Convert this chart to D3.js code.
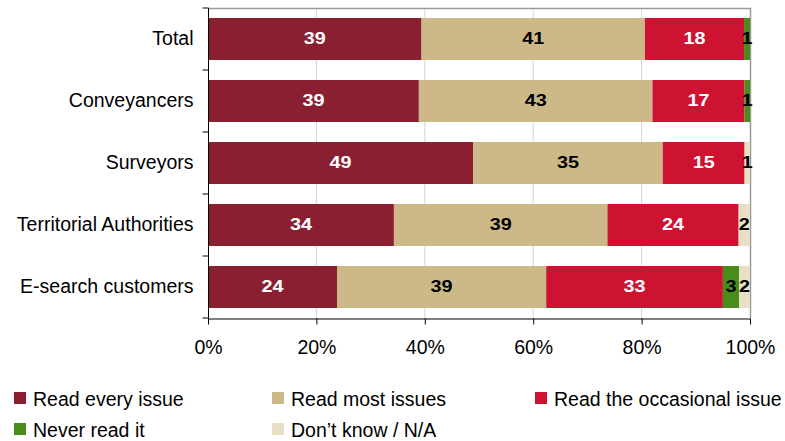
<!DOCTYPE html>
<html><head><meta charset="utf-8">
<script src="https://cdn.jsdelivr.net/npm/d3@7"></script>
<style>body{margin:0;background:#fff}svg{display:block;font-family:"Liberation Sans",Arial,sans-serif}</style>
</head><body><svg id="c" width="785" height="441"></svg>
<script>
const categories = ["Total","Conveyancers","Surveyors","Territorial Authorities","E-search customers"];
const seriesNames = ["Read every issue","Read most issues","Read the occasional issue","Never read it","Don\u2019t know / N/A"];
const readEvery = [39.4, 38.9, 48.9, 34.3, 23.8];
const readMost = [41.2, 43.1, 35.0, 39.4, 38.6];
const readOccasional = [18.3, 17.0, 15.1, 24.2, 32.6];
const neverRead = [1.1, 1.0, 0, 0, 3.0];
const dontKnow = [0, 0, 1.0, 2.1, 2.0];
const colors = ["#8A1F32","#CCB987","#CD1232","#4A8C1C","#E8DFC7"];
const labelColors = ["#fff","#000","#fff","#000","#000"];
const xTicks = [0,20,40,60,80,100];

const series = [readEvery, readMost, readOccasional, neverRead, dontKnow];
const FS = 19.5;
const svg = d3.select("#c");
const x = d3.scaleLinear().domain([0,100]).range([208,750]);
const y = d3.scaleBand().domain(categories).range([8,318]).paddingInner(20/62).paddingOuter(10/62);

// gridlines
svg.append("g").selectAll("line").data(xTicks.slice(1,-1)).join("line")
  .attr("x1",d=>x(d)).attr("x2",d=>x(d)).attr("y1",8).attr("y2",318)
  .attr("stroke","#D4D4D4").attr("stroke-width",1);
// border top/right
svg.append("path").attr("d",`M${x(0)},8.5H${x(100)+0.5}V318`).attr("fill","none").attr("stroke","#9A9A9A").attr("stroke-width",1.5);

// bars
const rows = categories.map((c,i)=>{let acc=0;return series.map((s,k)=>{const v=s[i];const r={cat:c,k,v,x0:acc,x1:acc+v};acc+=v;return r;});});
const g = svg.append("g");
rows.forEach(r=>{
  g.selectAll(null).data(r.filter(d=>d.v>0)).join("rect")
   .attr("x",d=>x(d.x0)).attr("width",d=>x(d.x1)-x(d.x0))
   .attr("y",d=>y(d.cat)).attr("height",y.bandwidth())
   .attr("fill",d=>colors[d.k]);
});
rows.forEach(r=>{
  g.selectAll(null).data(r.filter(d=>d.v>0)).join("text")
   .attr("transform",d=>`translate(${x((d.x0+d.x1)/2)},${y(d.cat)+y.bandwidth()/2}) scale(1.2,1)`)
   .attr("dy","0.3em").attr("text-anchor","middle")
   .attr("font-size",16.5).attr("font-weight","bold")
   .attr("fill",d=>labelColors[d.k]).text(d=>Math.round(d.v));
});

// axes
const xa = svg.append("g").attr("transform","translate(0,318.5)")
  .call(d3.axisBottom(x).tickValues(xTicks).tickFormat(d=>d+"%").tickSize(6).tickSizeOuter(0));
xa.select(".domain").attr("stroke","#000");
xa.selectAll("text").attr("font-size",FS).attr("font-family","Liberation Sans, Arial, sans-serif").attr("fill","#000").attr("y",35.5).attr("dy",null);
const ya = svg.append("g").attr("transform","translate(208.5,0)")
  .call(d3.axisLeft(y).tickSize(0).tickPadding(15));
ya.select(".domain").attr("d","M0,8V318").attr("stroke","#000");
ya.selectAll("text").attr("font-size",FS).attr("font-family","Liberation Sans, Arial, sans-serif").attr("fill","#000");
const bounds = [8].concat(categories.map(c=>y(c)+y.bandwidth()+10));
ya.append("g").selectAll("line").data(bounds).join("line")
  .attr("x1",-6).attr("x2",0).attr("y1",d=>d).attr("y2",d=>d).attr("stroke","#000");

// legend
const legPos = [[14,398],[272,398],[535,398],[14,429],[272,429]];
const lg = svg.append("g").selectAll("g").data(seriesNames).join("g")
  .attr("transform",(d,i)=>`translate(${legPos[i][0]},${legPos[i][1]})`);
lg.append("rect").attr("x",0).attr("y",-6).attr("width",12).attr("height",12).attr("fill",(d,i)=>colors[i]);
lg.append("text").attr("x",19).attr("y",7.5).attr("font-size",FS).attr("fill","#000").text(d=>d);
</script></body></html>
